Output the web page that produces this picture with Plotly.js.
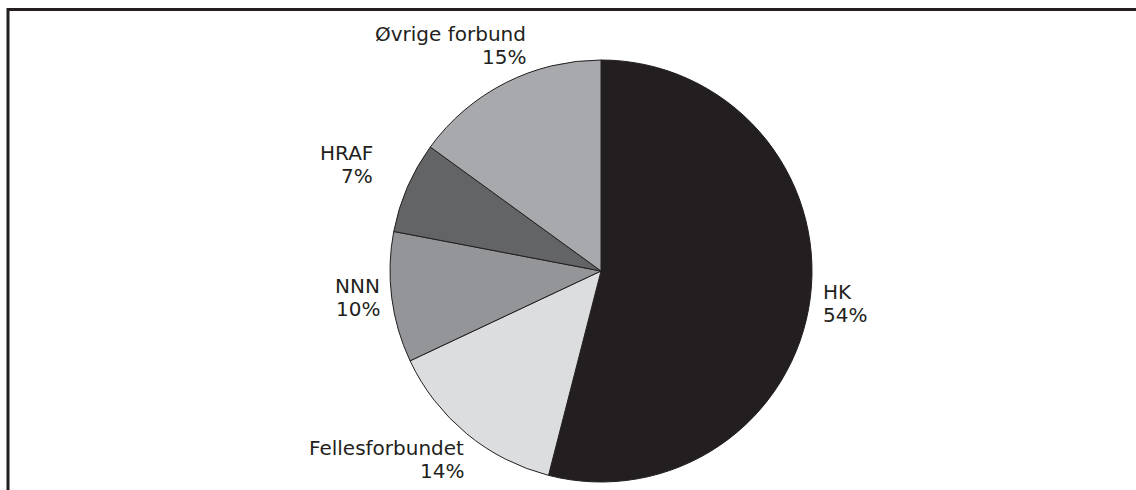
<!DOCTYPE html>
<html>
<head>
<meta charset="utf-8">
<script src="https://cdn.plot.ly/plotly-3.0.1.min.js"></script>
<style>html,body{margin:0;padding:0;background:#fff;}#chart{width:1136px;height:490px;}</style>
</head>
<body>
<div id="chart"></div>
<script>
// Data
const categories = ["HK", "Fellesforbundet", "NNN", "HRAF", "Øvrige forbund"];
const shares = [54, 14, 10, 7, 15];
const sliceColors = ["#231f20", "#dcdddf", "#939598", "#636466", "#a7a9ac"];

// Layout geometry (pixels)
const W = 1136, H = 490;
const cx = 601, cy = 271, R = 211;
const labelDist = 222;
const linePitch = 23;
// label anchoring / nudges (style)
const labelStyle = [
  {xanchor: "left",  xshift: 0,   yshift: -5},
  {xanchor: "right", xshift: 7,   yshift: -17},
  {xanchor: "right", xshift: 1,   yshift: 1},
  {xanchor: "right", xshift: -22, yshift: 18},
  {xanchor: "right", xshift: 28,  yshift: 28}
];
const labelFont = {family: "DejaVu Sans, sans-serif", size: 20, color: "#231f20"};

const total = shares.reduce((a, b) => a + b, 0);
let cum = 0;
const annotations = [];
categories.forEach((c, i) => {
  const mid = (cum + shares[i] / 2) / total * 2 * Math.PI;
  cum += shares[i];
  const px = cx + labelDist * Math.sin(mid);
  const py = cy - labelDist * Math.cos(mid);
  const pct = Math.round(shares[i] / total * 100) + "%";
  const s = labelStyle[i];
  [c, pct].forEach((t, k) => {
    annotations.push({
      xref: "paper", yref: "paper",
      x: px / W, y: 1 - py / H,
      text: t,
      showarrow: false,
      xanchor: s.xanchor, yanchor: "middle", align: s.xanchor,
      xshift: s.xshift, yshift: s.yshift + (k === 0 ? linePitch / 2 : -linePitch / 2),
      font: labelFont
    });
  });
});

const trace = {
  type: "pie",
  labels: categories,
  values: shares,
  sort: false,
  direction: "clockwise",
  rotation: 0,
  textinfo: "none",
  hoverinfo: "none",
  showlegend: false,
  marker: {colors: sliceColors, line: {color: "#231f20", width: 1}},
  domain: {x: [(cx - R) / W, (cx + R) / W], y: [(H - (cy + R)) / H, (H - (cy - R)) / H]}
};

const layout = {
  width: W, height: H,
  margin: {l: 0, r: 0, t: 0, b: 0},
  paper_bgcolor: "#ffffff",
  plot_bgcolor: "#ffffff",
  showlegend: false,
  annotations: annotations,
  shapes: [
    {type: "line", xref: "paper", yref: "paper", x0: 7 / W, x1: 1.01, y0: 1 - 9.5 / H, y1: 1 - 9.5 / H,
     line: {color: "#231f20", width: 3}},
    {type: "line", xref: "paper", yref: "paper", x0: 8 / W, x1: 8 / W, y0: 1 - 8 / H, y1: -0.01,
     line: {color: "#231f20", width: 3}}
  ]
};

Plotly.newPlot("chart", [trace], layout, {displayModeBar: false, staticPlot: true});
</script>
</body>
</html>
